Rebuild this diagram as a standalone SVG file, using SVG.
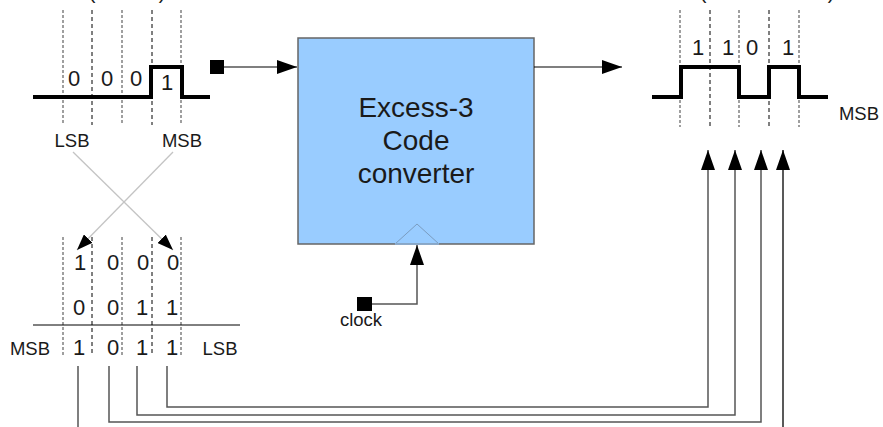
<svg xmlns="http://www.w3.org/2000/svg" width="883" height="427" viewBox="0 0 883 427">
<style>
text{font-family:"Liberation Sans",Arial,sans-serif;fill:#1a1a1a;text-anchor:middle}
.dig{font-size:22px}
.lbl{font-size:18.5px}
.box-t{font-size:28px}
.dg{stroke:#808080;stroke-width:1.5;stroke-dasharray:3 2;fill:none}
.dk{stroke:#000;stroke-width:1;stroke-dasharray:4 3;fill:none}
.wave{stroke:#000;stroke-width:4;fill:none;stroke-linejoin:miter}
.wire{stroke:#555;stroke-width:1.5;fill:none}
.cross{stroke:#c4c4c4;stroke-width:1.3;fill:none}
</style>
<defs>
<marker id="ah" markerUnits="userSpaceOnUse" markerWidth="20" markerHeight="14" refX="20" refY="7" orient="auto">
<path d="M0,0 L20,7 L0,14 Z" fill="#000"/>
</marker>
<marker id="ahs" markerUnits="userSpaceOnUse" markerWidth="16" markerHeight="12" refX="16" refY="6" orient="auto">
<path d="M0,0 L16,6 L0,12 Z" fill="#000"/>
</marker>
</defs>

<g id="input-wave">
<text x="92" y="-1" style="font-size:20px">(</text>
<text x="162" y="-1" style="font-size:20px">)</text>
<line class="dg" x1="63" y1="10" x2="63" y2="125"/>
<line class="dk" x1="92" y1="10" x2="92" y2="125"/>
<line class="dg" x1="122" y1="10" x2="122" y2="125"/>
<line class="dk" x1="152" y1="10" x2="152" y2="125"/>
<line class="dg" x1="181" y1="10" x2="181" y2="125"/>
<path class="wave" d="M33,97 H151 V67 H182 V97 H210"/>
<text class="dig" x="74" y="86">0</text>
<text class="dig" x="107" y="86">0</text>
<text class="dig" x="136" y="86">0</text>
<text class="dig" x="167" y="90">1</text>
<text class="lbl" x="72" y="147">LSB</text>
<text class="lbl" x="182" y="147">MSB</text>
</g>

<g id="table">
<line class="dg" x1="63" y1="237" x2="63" y2="355"/>
<line class="dk" x1="92" y1="237" x2="92" y2="355"/>
<line class="dg" x1="122" y1="237" x2="122" y2="355"/>
<line class="dk" x1="152" y1="237" x2="152" y2="355"/>
<line class="dg" x1="181" y1="237" x2="181" y2="355"/>
<text class="dig" x="80" y="270">1</text>
<text class="dig" x="113" y="270">0</text>
<text class="dig" x="143" y="270">0</text>
<text class="dig" x="173" y="270">0</text>
<text class="dig" x="79" y="315">0</text>
<text class="dig" x="113" y="315">0</text>
<text class="dig" x="142" y="315">1</text>
<text class="dig" x="172" y="315">1</text>
<line x1="33" y1="325" x2="240" y2="325" stroke="#000" stroke-width="1"/>
<text class="lbl" x="30" y="355">MSB</text>
<text class="dig" x="79" y="355">1</text>
<text class="dig" x="113" y="355">0</text>
<text class="dig" x="142" y="355">1</text>
<text class="dig" x="172" y="355">1</text>
<text class="lbl" x="220" y="355">LSB</text>
</g>

<g id="converter">
<rect x="298" y="38" width="236" height="206" fill="#99ccff" stroke="#666" stroke-width="1.5"/>
<path d="M395,244 L417,224 L439,244" fill="none" stroke="#7a9cc0" stroke-width="1"/>
<line x1="395" y1="244" x2="439" y2="244" stroke="#8fb4dc" stroke-width="1.6"/>
<text class="box-t" x="416" y="117">Excess-3</text>
<text class="box-t" x="416" y="150">Code</text>
<text class="box-t" x="416" y="183">converter</text>
</g>

<g id="input-port">
<rect x="210" y="60" width="14" height="14" fill="#000"/>
</g>

<g id="clock">
<rect x="357" y="297" width="15" height="14" fill="#000"/>
<text class="lbl" x="361" y="326">clock</text>
</g>

<g id="output-wave">
<text x="703" y="-1" style="font-size:20px">(</text>
<text x="831" y="-1" style="font-size:20px">)</text>
<line class="dg" x1="680" y1="10" x2="680" y2="127"/>
<line class="dk" x1="710" y1="10" x2="710" y2="127"/>
<line class="dg" x1="739" y1="10" x2="739" y2="127"/>
<line class="dk" x1="769" y1="10" x2="769" y2="127"/>
<line class="dg" x1="799" y1="10" x2="799" y2="127"/>
<path class="wave" d="M652,97 H681 V67 H739 V97 H769 V67 H799 V97 H828"/>
<text class="dig" x="698" y="55">1</text>
<text class="dig" x="728" y="55">1</text>
<text class="dig" x="752" y="55">0</text>
<text class="dig" x="788" y="55">1</text>
<text class="lbl" x="859" y="120">MSB</text>
</g>

<g id="connectors">
<line x1="224" y1="67" x2="297" y2="67" stroke="#000" stroke-width="1.2" marker-end="url(#ah)"/>
<line x1="534" y1="67" x2="622" y2="67" stroke="#000" stroke-width="1.2" marker-end="url(#ah)"/>
<path d="M372,304 H417 V245" class="wire" marker-end="url(#ah)"/>
<line class="cross" x1="73" y1="152" x2="173" y2="250" marker-end="url(#ahs)"/>
<line class="cross" x1="173" y1="152" x2="77" y2="250" marker-end="url(#ahs)"/>
<line class="wire" x1="78" y1="366" x2="78" y2="427"/>
<path class="wire" d="M109,366 V422 H761 V150" marker-end="url(#ah)"/>
<path class="wire" d="M137,366 V415 H735 V150" marker-end="url(#ah)"/>
<path class="wire" d="M167,366 V407 H708 V150" marker-end="url(#ah)"/>
<line x1="783" y1="427" x2="783" y2="150" stroke="#222" stroke-width="1.5" marker-end="url(#ah)"/>
</g>
</svg>
